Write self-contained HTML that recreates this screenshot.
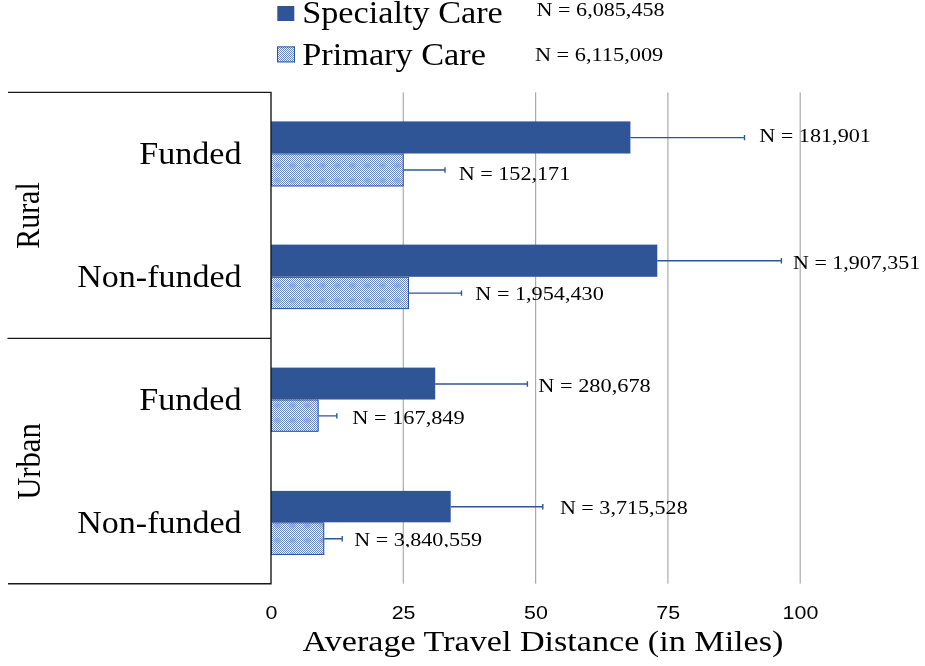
<!DOCTYPE html>
<html><head><meta charset="utf-8"><title>Average Travel Distance</title>
<style>
html,body{margin:0;padding:0;background:#fff;}
body{width:925px;height:666px;overflow:hidden;}
svg{display:block;will-change:transform;}
text{font-family:"Liberation Serif",serif;fill:#000;}
.sans{font-family:"Liberation Sans",sans-serif;}
</style></head><body>
<svg width="925" height="666" viewBox="0 0 925 666">
<defs>
<pattern id="chk" width="2" height="2" patternUnits="userSpaceOnUse">
<rect width="2" height="2" fill="#FAFBFD"/>
<rect x="0" y="0" width="1" height="1" fill="#6985BD"/>
<rect x="1" y="1" width="1" height="1" fill="#6985BD"/>
</pattern>
<radialGradient id="gr"><stop offset="0" stop-color="#7D96C5" stop-opacity="0.75"/><stop offset="0.6" stop-color="#869DC9" stop-opacity="0.5"/><stop offset="1" stop-color="#9BAFD2" stop-opacity="0"/></radialGradient>
<pattern id="env" width="15" height="15" patternUnits="userSpaceOnUse" patternTransform="translate(0 8)">
<ellipse cx="7.5" cy="7.5" rx="5" ry="3.8" fill="url(#gr)"/>
</pattern>
<clipPath id="clipc"><rect x="340" y="520" width="200" height="27.3"/></clipPath>
</defs>
<rect width="925" height="666" fill="#fff"/>

<rect x="402.70" y="92.4" width="1.2" height="491.3" fill="#ababab"/>
<rect x="535.00" y="92.4" width="1.2" height="491.3" fill="#ababab"/>
<rect x="667.30" y="92.4" width="1.2" height="491.3" fill="#ababab"/>
<rect x="799.60" y="92.4" width="1.2" height="491.3" fill="#ababab"/>
<rect x="271.0" y="121.4" width="359.40" height="32.10" fill="#2F5597"/>
<rect x="271.0" y="153.5" width="132.70" height="32.90" fill="url(#chk)"/>
<rect x="271.0" y="153.5" width="132.70" height="32.90" fill="url(#env)"/>
<rect x="271.5" y="154.0" width="131.70" height="31.90" fill="none" stroke="#2F5597" stroke-width="1"/>
<path d="M630.4 137.6H744.9M744.5 134.9V140.29999999999998" stroke="#2F5597" stroke-width="1.4" fill="none"/>
<path d="M403.7 170.0H445.4M445.0 167.3V172.7" stroke="#2F5597" stroke-width="1.4" fill="none"/>
<rect x="271.0" y="244.6" width="386.30" height="32.20" fill="#2F5597"/>
<rect x="271.0" y="276.8" width="138.00" height="32.30" fill="url(#chk)"/>
<rect x="271.0" y="276.8" width="138.00" height="32.30" fill="url(#env)"/>
<rect x="271.5" y="277.3" width="137.00" height="31.30" fill="none" stroke="#2F5597" stroke-width="1"/>
<path d="M657.3 260.7H781.8M781.4 258.0V263.4" stroke="#2F5597" stroke-width="1.4" fill="none"/>
<path d="M409.0 293.1H461.9M461.5 290.40000000000003V295.8" stroke="#2F5597" stroke-width="1.4" fill="none"/>
<rect x="271.0" y="367.6" width="164.20" height="31.90" fill="#2F5597"/>
<rect x="271.0" y="399.5" width="47.60" height="32.30" fill="url(#chk)"/>
<rect x="271.0" y="399.5" width="47.60" height="32.30" fill="url(#env)"/>
<rect x="271.5" y="400.0" width="46.60" height="31.30" fill="none" stroke="#2F5597" stroke-width="1"/>
<path d="M435.2 384.0H527.8M527.4 381.3V386.7" stroke="#2F5597" stroke-width="1.4" fill="none"/>
<path d="M318.6 415.9H337.2M336.8 413.2V418.59999999999997" stroke="#2F5597" stroke-width="1.4" fill="none"/>
<rect x="271.0" y="490.9" width="179.70" height="31.40" fill="#2F5597"/>
<rect x="271.0" y="522.3" width="53.20" height="32.70" fill="url(#chk)"/>
<rect x="271.0" y="522.3" width="53.20" height="32.70" fill="url(#env)"/>
<rect x="271.5" y="522.8" width="52.20" height="31.70" fill="none" stroke="#2F5597" stroke-width="1"/>
<path d="M450.7 506.7H543.2M542.8000000000001 504.0V509.4" stroke="#2F5597" stroke-width="1.4" fill="none"/>
<path d="M324.2 538.7H342.6M342.20000000000005 536.0V541.4000000000001" stroke="#2F5597" stroke-width="1.4" fill="none"/>
<path d="M8 92.4H271M7.5 338.4H271M8 583.7H271M271 91.7V584.4" stroke="#1a1a1a" stroke-width="1.4" fill="none"/>
<rect x="277.3" y="6" width="17" height="15" fill="#2F5597"/>
<rect x="277" y="46.4" width="18" height="16" fill="url(#chk)"/>
<rect x="277.5" y="46.9" width="17" height="15" fill="none" stroke="#2F5597" stroke-width="1"/>
<text x="302.2" y="22.9" font-size="31.5" textLength="200.6" lengthAdjust="spacingAndGlyphs">Specialty Care</text>
<text x="302.3" y="64.5" font-size="31.5" textLength="183.6" lengthAdjust="spacingAndGlyphs">Primary Care</text>
<text x="536.6" y="16.1" font-size="18.9" textLength="128" lengthAdjust="spacingAndGlyphs">N = 6,085,458</text>
<text x="534.9" y="61.4" font-size="18.9" textLength="128.4" lengthAdjust="spacingAndGlyphs">N = 6,115,009</text>
<text x="139.2" y="163.9" font-size="31.5" textLength="102.3" lengthAdjust="spacingAndGlyphs">Funded</text>
<text x="77.3" y="286.6" font-size="31.5" textLength="164.2" lengthAdjust="spacingAndGlyphs">Non-funded</text>
<text x="139.2" y="409.9" font-size="31.5" textLength="102.3" lengthAdjust="spacingAndGlyphs">Funded</text>
<text x="77.3" y="532.8" font-size="31.5" textLength="164.2" lengthAdjust="spacingAndGlyphs">Non-funded</text>
<text x="759.3" y="142.0" font-size="19.7" textLength="111.6" lengthAdjust="spacingAndGlyphs">N = 181,901</text>
<text x="458.7" y="179.8" font-size="19.7" textLength="111.6" lengthAdjust="spacingAndGlyphs">N = 152,171</text>
<text x="793.0" y="269.2" font-size="19.7" textLength="127.3" lengthAdjust="spacingAndGlyphs">N = 1,907,351</text>
<text x="475.3" y="300.2" font-size="19.7" textLength="128.5" lengthAdjust="spacingAndGlyphs">N = 1,954,430</text>
<text x="538.3" y="391.9" font-size="19.7" textLength="112.5" lengthAdjust="spacingAndGlyphs">N = 280,678</text>
<text x="352.3" y="424.2" font-size="19.7" textLength="112.4" lengthAdjust="spacingAndGlyphs">N = 167,849</text>
<text x="559.9" y="514.0" font-size="19.7" textLength="127.8" lengthAdjust="spacingAndGlyphs">N = 3,715,528</text>
<text x="354.2" y="546.1" font-size="19.7" textLength="127.9" lengthAdjust="spacingAndGlyphs" clip-path="url(#clipc)">N = 3,840,559</text>
<text x="302.6" y="651.4" font-size="30.3" textLength="480.8" lengthAdjust="spacingAndGlyphs">Average Travel Distance (in Miles)</text>
<text x="265.4" y="619.1" font-size="18" textLength="11.9" lengthAdjust="spacingAndGlyphs" class="sans">0</text>
<text x="391.7" y="619.1" font-size="18" textLength="23.8" lengthAdjust="spacingAndGlyphs" class="sans">25</text>
<text x="524.0" y="619.1" font-size="18" textLength="23.8" lengthAdjust="spacingAndGlyphs" class="sans">50</text>
<text x="656.3" y="619.1" font-size="18" textLength="23.8" lengthAdjust="spacingAndGlyphs" class="sans">75</text>
<text x="782.6" y="619.1" font-size="18" textLength="35.7" lengthAdjust="spacingAndGlyphs" class="sans">100</text>
<text transform="translate(39.3 248.8) rotate(-90)" font-size="33.8" textLength="66.5" lengthAdjust="spacingAndGlyphs">Rural</text>
<text transform="translate(39.7 499.8) rotate(-90)" font-size="34.7" textLength="76.5" lengthAdjust="spacingAndGlyphs">Urban</text>
</svg></body></html>
